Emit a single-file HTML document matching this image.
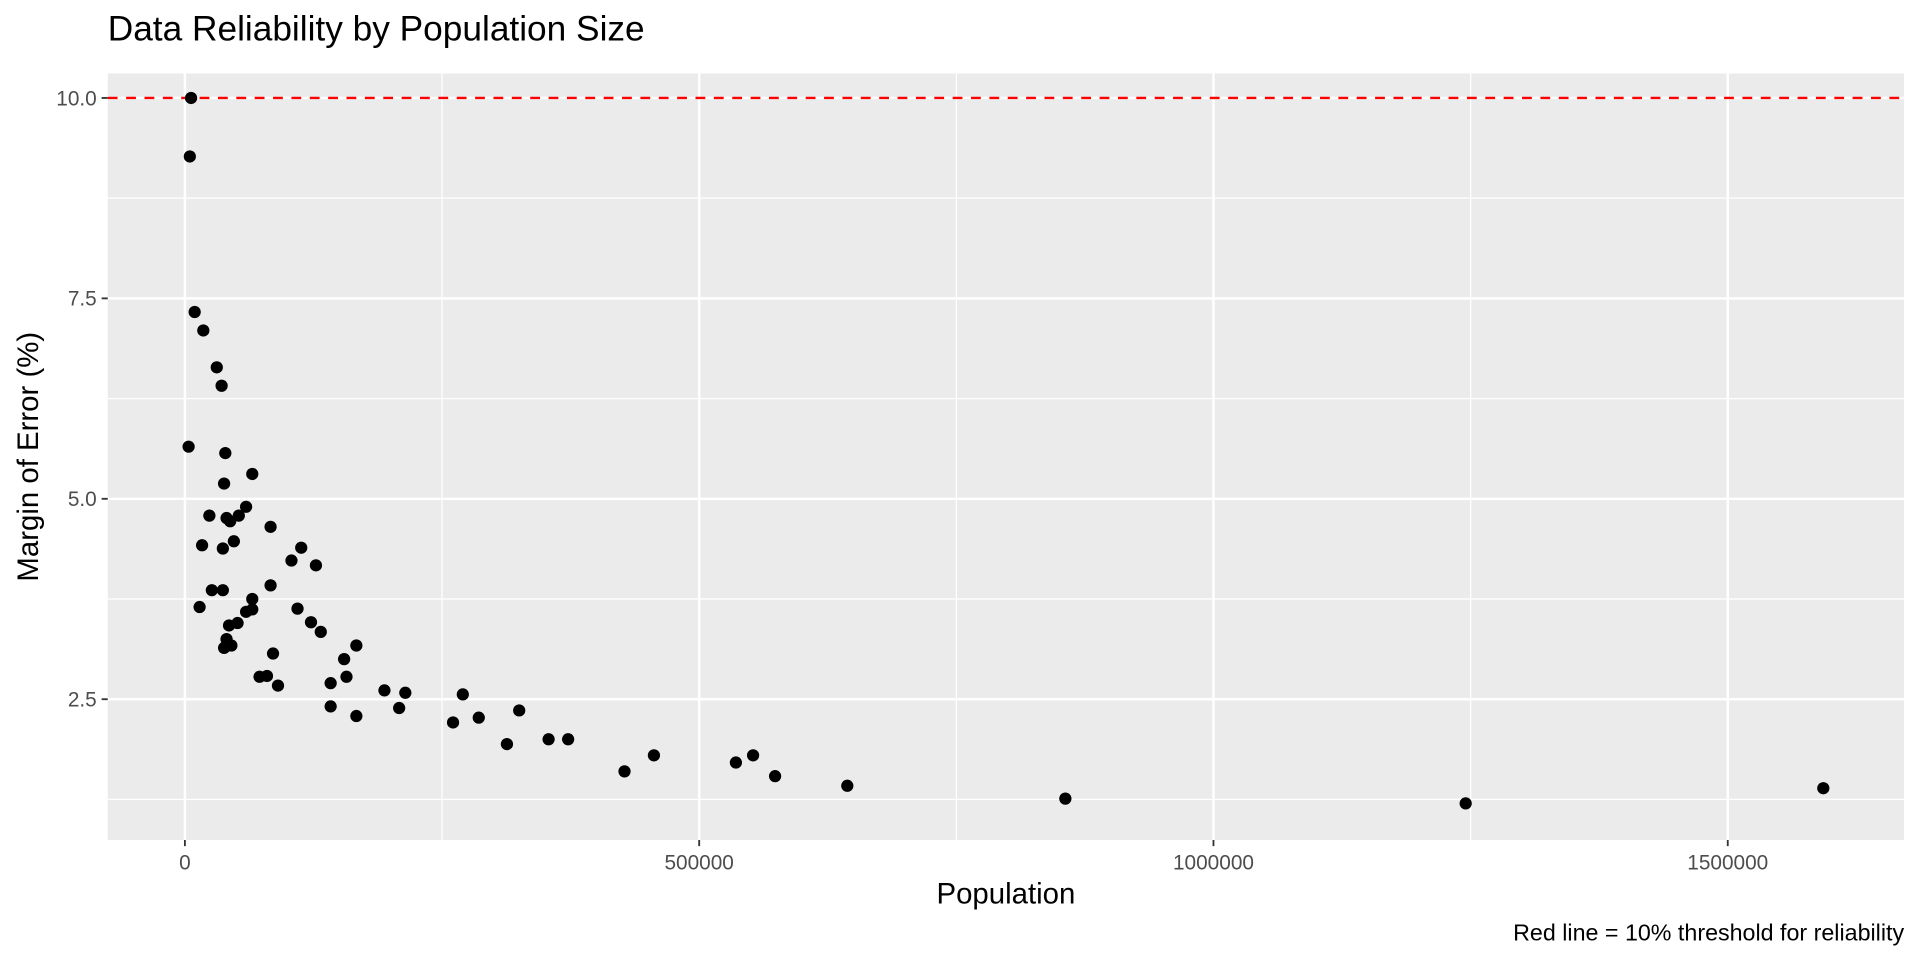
<!DOCTYPE html>
<html><head><meta charset="utf-8"><style>
body{margin:0;background:#fff;overflow:hidden;}
svg{font-family:"Liberation Sans",Arial,sans-serif;display:block;}
</style></head><body>
<svg id="chart" width="1920" height="960" viewBox="0 0 1568 784" preserveAspectRatio="none" xmlns="http://www.w3.org/2000/svg"></svg>
<script>
const populations=[6000,4800,3600,17900,9500,31000,35700,39300,38100,65500,23800,16700,40500,44000,52400,59500,47600,36900,83300,26200,36900,14300,65500,59500,65500,83300,51200,42900,40500,45200,38100,85700,72600,79800,90500,103600,113100,127400,109500,122600,132100,166700,154800,141700,157100,141700,166700,194000,214300,208300,260700,270200,285700,325000,313100,353600,372600,427400,456000,535700,552400,573800,644000,856000,1245200,1592900];
const moes=[10.0,9.27,5.65,7.10,7.33,6.64,6.41,5.57,5.19,5.31,4.79,4.42,4.76,4.72,4.79,4.90,4.47,4.38,4.65,3.86,3.86,3.65,3.75,3.59,3.62,3.92,3.45,3.42,3.25,3.17,3.14,3.07,2.78,2.79,2.67,4.23,4.39,4.17,3.63,3.46,3.34,3.17,3.00,2.70,2.78,2.41,2.29,2.61,2.58,2.39,2.21,2.56,2.27,2.36,1.94,2.00,2.00,1.60,1.80,1.71,1.80,1.54,1.42,1.26,1.20,1.39];
const xTicks=[0,500000,1000000,1500000];
const xTickLabels=["0","500000","1000000","1500000"];
const xMinor=[250000,750000,1250000];
const yTicks=[2.5,5.0,7.5,10.0];
const yTickLabels=["2.5","5.0","7.5","10.0"];
const yMinor=[1.25,3.75,6.25,8.75];
const threshold=10;

const NS="http://www.w3.org/2000/svg";
const svg=document.getElementById('chart');
const P={l:88,r:1555,t:60,b:686};
const xS=v=>151+(v/500000)*420;
const yS=v=>80+(10-v)*65.47;
function mk(tag,attrs,parent){const e=document.createElementNS(NS,tag);for(const k in attrs)e.setAttribute(k,attrs[k]);(parent||svg).appendChild(e);return e;}

const panel=mk('rect',{x:P.l,y:P.t,width:P.r-P.l,height:P.b-P.t,fill:'#ebebeb'});



xMinor.forEach(v=>{const l=mk('line',{x1:xS(v),x2:xS(v),y1:P.t,y2:P.b,stroke:'#fff','stroke-width':1});

});
yMinor.forEach(v=>{const l=mk('line',{x1:P.l,x2:P.r,y1:yS(v),y2:yS(v),stroke:'#fff','stroke-width':1});

});
xTicks.forEach((v,i)=>{const l=mk('line',{x1:xS(v),x2:xS(v),y1:P.t,y2:P.b,stroke:'#fff','stroke-width':2});


const t=mk('line',{x1:xS(v),x2:xS(v),y1:P.b,y2:P.b+5,stroke:'#333','stroke-width':1.5});


const tx=mk('text',{x:xS(v),y:P.b+24,'text-anchor':'middle','font-size':17,fill:'#4d4d4d'});tx.textContent=xTickLabels[i];

});
yTicks.forEach((v,i)=>{const l=mk('line',{x1:P.l,x2:P.r,y1:yS(v),y2:yS(v),stroke:'#fff','stroke-width':2});


const t=mk('line',{x1:P.l-5,x2:P.l,y1:yS(v),y2:yS(v),stroke:'#333','stroke-width':1.5});


const tx=mk('text',{x:P.l-9,y:yS(v)+6,'text-anchor':'end','font-size':17,fill:'#4d4d4d'});tx.textContent=yTickLabels[i];

});

const th=mk('line',{x1:P.l,x2:P.r,y1:yS(threshold),y2:yS(threshold),stroke:'#ff0000','stroke-width':2,'stroke-dasharray':'8,7'});



populations.forEach((p,i)=>{const c=mk('circle',{cx:xS(p),cy:yS(moes[i]),r:5,fill:'#000'});

});

const title=mk('text',{x:88,y:33,'font-size':28.8,fill:'#000'});title.textContent='Data Reliability by Population Size';


const xt=mk('text',{x:(P.l+P.r)/2,y:738,'text-anchor':'middle','font-size':24,fill:'#000'});xt.textContent='Population';


const yt=mk('text',{x:0,y:0,'text-anchor':'middle','font-size':24,fill:'#000',transform:`translate(31,${(P.t+P.b)/2}) rotate(-90)`});yt.textContent='Margin of Error (%)';


const cap=mk('text',{x:1555,y:768,'text-anchor':'end','font-size':19,fill:'#000'});cap.textContent='Red line = 10% threshold for reliability';


</script>
</body></html>
